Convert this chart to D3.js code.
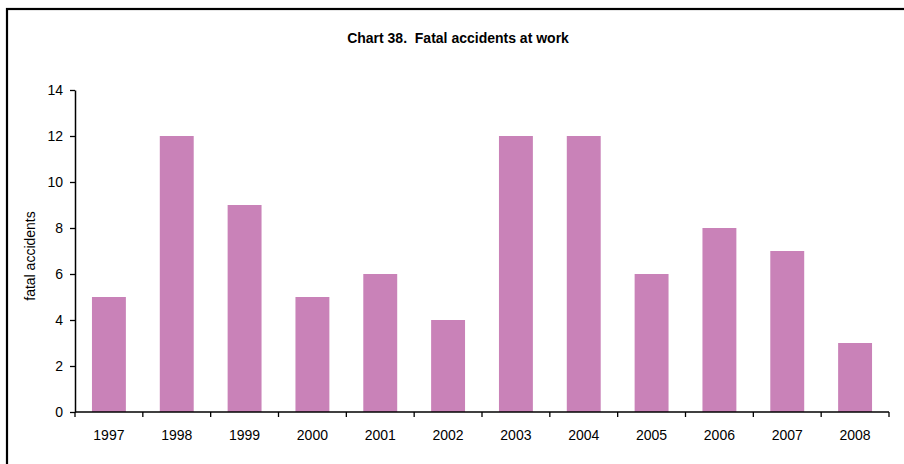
<!DOCTYPE html>
<html><head><meta charset="utf-8">
<script src="https://cdn.jsdelivr.net/npm/d3@7/dist/d3.min.js"></script>
<style>body{margin:0;background:#fff}svg{display:block;font-family:"Liberation Sans",Arial,sans-serif}text{white-space:pre}</style>
</head><body><svg id="c" width="904" height="464"></svg>
<script>
const categories = ["1997","1998","1999","2000","2001","2002","2003","2004","2005","2006","2007","2008"];
const values = [5,12,9,5,6,4,12,12,6,8,7,3];
const yTicks = [0,2,4,6,8,10,12,14];
const title = "Chart 38.  Fatal accidents at work";
const yLabel = "fatal accidents";

const svg = d3.select("#c");
svg.append("rect").attr("x",7).attr("y",9).attr("width",1000).attr("height",1000)
  .attr("fill","none").attr("stroke","#000").attr("stroke-width",2.2);

const L=75,R=889,T=90,B=412;
const x = d3.scaleBand().domain(categories).range([L,R]).paddingInner(0.5).paddingOuter(0.25);
const y = d3.scaleLinear().domain([0,14]).range([B,T]);

svg.append("text").attr("x",458).attr("y",43).attr("text-anchor","middle")
  .attr("font-weight","bold").attr("font-size",14).attr("xml:space","preserve").text(title);

svg.append("g").selectAll("rect").data(values).join("rect")
  .attr("x",(d,i)=>x(categories[i])).attr("width",x.bandwidth())
  .attr("y",d=>y(d)).attr("height",d=>B-y(d)).attr("fill","#C982B8");

const ya = svg.append("g").attr("transform",`translate(${L},0)`)
  .call(d3.axisLeft(y).tickValues(yTicks).tickSize(5).tickPadding(7).tickSizeOuter(0));
ya.select(".domain").attr("stroke","#000").attr("stroke-width",1.5);
ya.selectAll("line").attr("stroke","#000").attr("stroke-width",1.3);
ya.selectAll("text").attr("font-size",14).attr("fill","#000").attr("font-family","Liberation Sans, Arial, sans-serif");

// x axis with ticks at band boundaries
const xa = svg.append("g").attr("transform",`translate(0,${B})`);
xa.append("line").attr("x1",L).attr("x2",R).attr("stroke","#000").attr("stroke-width",1.5);
const bounds = d3.range(categories.length+1).map(i=>L+(R-L)*i/categories.length);
xa.selectAll("line.t").data(bounds).join("line").attr("class","t")
  .attr("x1",d=>d).attr("x2",d=>d).attr("y1",0).attr("y2",5).attr("stroke","#000").attr("stroke-width",1.3);
xa.selectAll("text").data(categories).join("text")
  .attr("x",d=>x(d)+x.bandwidth()/2).attr("y",27.5).attr("text-anchor","middle")
  .attr("font-size",14).text(d=>d);

svg.append("text").attr("transform","translate(35,256) rotate(-90)").attr("text-anchor","middle")
  .attr("font-size",14).text(yLabel);
</script></body></html>
